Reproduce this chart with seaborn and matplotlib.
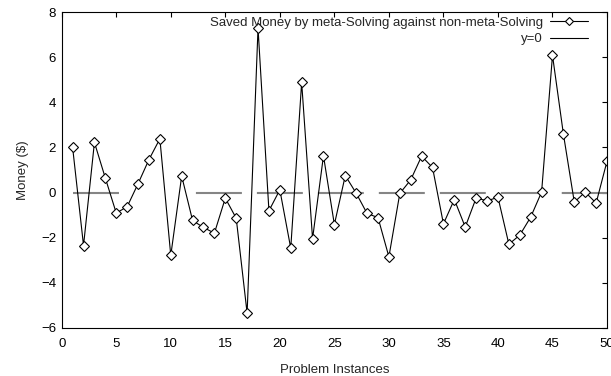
import matplotlib
matplotlib.use("Agg")
import matplotlib.pyplot as plt
from matplotlib.lines import Line2D
import seaborn as sns
import pandas as pd

# problem instance numbers and saved money per instance
instances = list(range(1, 51))
saved_money = [
    2.00, -2.35, 2.22, 0.64, -0.91, -0.63, 0.39, 1.46, 2.38, -2.79,
    0.73, -1.24, -1.55, -1.80, -0.25, -1.14, -5.35, 7.29, -0.81, 0.12,
    -2.47, 4.88, -2.05, 1.63, -1.42, 0.75, -0.03, -0.93, -1.11, -2.85,
    -0.04, 0.56, 1.61, 1.11, -1.39, -0.31, -1.53, -0.24, -0.37, -0.21,
    -2.29, -1.89, -1.09, 0.02, 6.08, 2.59, -0.43, 0.02, -0.47, 1.39,
]
series_label = "Saved Money by meta-Solving against non-meta-Solving"
zero_label = "y=0"
x_ticks = list(range(0, 51, 5))
y_ticks = list(range(-6, 9, 2))

df = pd.DataFrame({"instance": instances, "money": saved_money})

sns.set_style("white")
plt.rcParams["font.family"] = ["Liberation Sans", "DejaVu Sans"]
plt.rcParams["font.size"] = 9.5

fig = plt.figure(figsize=(6.11, 3.76), dpi=100)
ax = fig.add_axes([0.101, 0.128, 0.8925, 0.84])

# grey zero line with long dashes (one dash is missing near the start, as in the original)
zlw = 1.5
on, off, big = 33.1 / zlw, 10.8 / zlw, 55.4 / zlw
ax.axhline(0, xmin=1 / 50, xmax=1.0, color="#858585", lw=zlw,
           dashes=(on, big) + (on, off) * 8)

sns.lineplot(data=df, x="instance", y="money", ax=ax, color="black", lw=0.8,
             marker="D", markersize=4.8, markerfacecolor="white",
             markeredgecolor="black", markeredgewidth=0.8)

ax.set_xlim(0, 50)
ax.set_ylim(-6, 8)
ax.set_xticks(x_ticks)
ax.set_yticks(y_ticks)
ax.tick_params(axis="x", pad=7.5)
ax.tick_params(axis="y", pad=4)
ax.tick_params(direction="in", length=3.5, width=0.8, top=True, right=True,
               labelsize=9.5, colors="black")
for s in ax.spines.values():
    s.set_color("black")
    s.set_linewidth(0.8)

ax.set_xlabel("Problem Instances", fontsize=9.5, labelpad=10)
ax.set_ylabel("Money ($)", fontsize=9.5, labelpad=9)

handles = [
    Line2D([], [], color="black", lw=0.8, marker="D", markersize=4.5,
           markerfacecolor="white", markeredgecolor="black", markeredgewidth=0.8),
    Line2D([], [], color="black", lw=0.8),
]
ax.legend(handles, [series_label, zero_label], loc="upper right",
          bbox_to_anchor=(0.965, 0.985), frameon=False, markerfirst=False,
          borderpad=0, borderaxespad=0, handlelength=2.9, handletextpad=0.5,
          labelspacing=0.3, fontsize=9.5)

fig.savefig("out.png", dpi=100)
